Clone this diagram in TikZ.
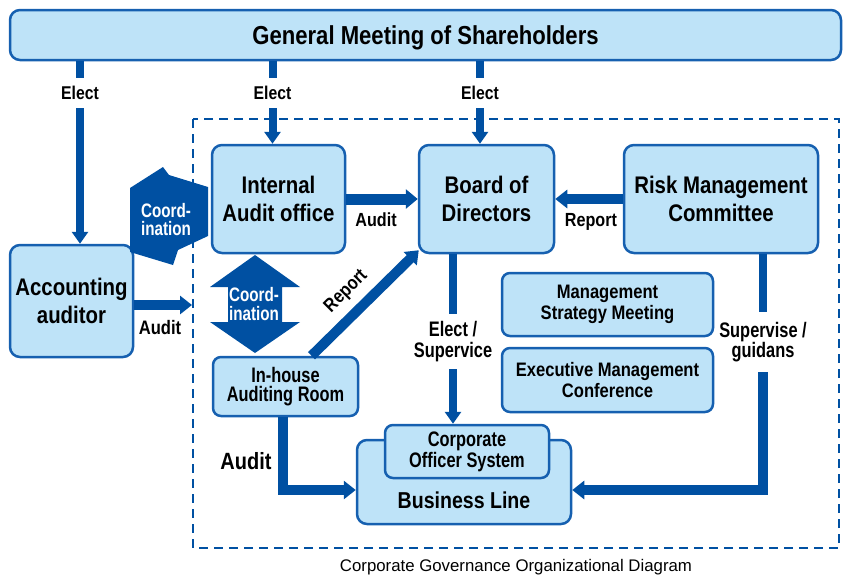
\documentclass[tikz,border=0pt]{standalone}
\usepackage{fontspec}
\setmainfont{Liberation Sans}
\newfontfamily\cb{Liberation Sans}[FakeStretch=0.85]
\newfontfamily\cbn{Liberation Sans}[FakeStretch=0.78]
\usetikzlibrary{arrows.meta,calc}
\definecolor{dblue}{RGB}{0,80,162}
\definecolor{bblue}{RGB}{22,96,176}
\definecolor{lblue}{RGB}{190,227,248}
\tikzset{
  box/.style={draw=bblue, line width=2.5pt, fill=lblue, rounded corners=10pt, inner sep=0pt, align=center,
    font=\cb\bfseries\fontsize{24}{27.5}\selectfont},
  mbox/.style={box, rounded corners=8pt, font=\cb\bfseries\fontsize{19.5}{21.5}\selectfont},
  lbl/.style={inner sep=0pt, align=center, font=\cb\bfseries\fontsize{19}{20.5}\selectfont},
  nlbl/.style={lbl, font=\cbn\bfseries\fontsize{21}{20.5}\selectfont},
  one/.style={text depth=0pt},
  ctext/.style={lbl, text=white, font=\cbn\bfseries\fontsize{19.5}{18.5}\selectfont},
  conn/.style={draw=dblue, line width=8pt},
  arr/.style={conn, -{Triangle[length=12pt, width=8pt 1]}},
  harr/.style={arr, line width=11pt},
}
\begin{document}
\begin{tikzpicture}[x=1pt,y=-1pt]
\useasboundingbox (0,0) rectangle (845,574);
% dashed frame
\draw[dblue, line width=2.5pt, dash pattern=on 9pt off 6pt] (193,119) rectangle (839,548);

% boxes
\node[box, one, minimum width=831pt, minimum height=50pt, font=\cb\bfseries\fontsize{26}{30}\selectfont] (gm) at (425.5,35) {General Meeting of Shareholders};
\node[box, minimum width=133pt, minimum height=108pt] (ia) at (278.5,199) {Internal\\Audit office};
\node[box, minimum width=135pt, minimum height=108pt] (bd) at (486.5,199) {Board of\\Directors};
\node[box, minimum width=194pt, minimum height=108pt] (rm) at (721,199) {Risk Management\\Committee};
\node[box, minimum width=123pt, minimum height=112pt] (acc) at (71.5,301) {Accounting\\auditor};
\node[mbox] (msm) at (607.5,304.5) [minimum width=211pt, minimum height=63pt] {Management\\Strategy Meeting};
\node[mbox] (emc) at (607.5,380) [minimum width=211pt, minimum height=64pt] {Executive Management\\Conference};
\node[mbox, font=\cbn\bfseries\fontsize{21}{18.5}\selectfont] (ih) at (285.5,386.5) [minimum width=145pt, minimum height=59pt] {In-house\\Auditing Room};
\node[box] (bl) at (464,482) [minimum width=214pt, minimum height=84pt] {};
\node[lbl, one, font=\cb\bfseries\fontsize{23}{26}\selectfont] (bltext) at (464,500.5) {Business Line};
\node[mbox, font=\cbn\bfseries\fontsize{21}{21.3}\selectfont] (cos) at (467,451.5) [minimum width=164pt, minimum height=53pt] {Corporate\\Officer System};

% coordination shapes
\fill[dblue] (130,188) -- (163,167) -- (169,175) -- (208,187) -- (208,236) -- (178,250) -- (173,265) -- (130,252) -- cycle;
\node[ctext] (c1) at (166,219.5) {Coord-\\ination};
\fill[dblue] (255,255) -- (300,287) -- (282,287) -- (282,322) -- (300,322) -- (255,353) -- (210,322) -- (228,322) -- (228,287) -- (210,287) -- cycle;
\node[ctext] (c2) at (254,304) {Coord-\\ination};

% Elect arrows
\node[lbl, one, font=\cb\bfseries\fontsize{18.5}{20}\selectfont, minimum height=30pt] (el1) at (80,93) {Elect};
\node[lbl, one, font=\cb\bfseries\fontsize{18.5}{20}\selectfont, minimum height=30pt] (el2) at (272.5,93) {Elect};
\node[lbl, one, font=\cb\bfseries\fontsize{18.5}{20}\selectfont, minimum height=30pt] (el3) at (480,93) {Elect};
\draw[conn] (gm.south -| el1) -- (el1.north);
\draw[arr] (el1.south) -- (acc.north -| el1);
\draw[conn] (gm.south -| el2) -- (el2.north);
\draw[arr] (el2.south) -- (ia.north -| el2);
\draw[conn] (gm.south -| el3) -- (el3.north);
\draw[arr] (el3.south) -- (bd.north -| el3);

% horizontal arrows
\draw[harr] (ia.east) -- (bd.west);
\node[lbl, one] (la1) at (376,220) {Audit};
\draw[harr, line width=10pt] (rm.west) -- (bd.east);
\node[lbl, one] (lr1) at (591,220) {Report};
\coordinate (accend) at (192,305);
\draw[harr, line width=10pt] ($(acc.east)+(0,4)$) -- (accend);
\node[lbl, one, font=\cb\bfseries\fontsize{19.5}{21}\selectfont] (la2) at (160,327) {Audit};

% diagonal report
\draw[arr, line width=10pt] ([xshift=26pt]ih.north) -- ([shift={(1,-4)}]bd.south west);
\node[lbl, one, rotate=45] (lr2) at (345,290) {Report};

% board -> corporate officer
\node[nlbl, minimum height=55pt] (es) at (453,341.5) {Elect /\\Supervice};
\draw[conn] (bd.south -| es) -- (es.north);
\draw[arr] (es.south) -- (cos.north -| es);

% risk -> business line
\node[nlbl, minimum height=60pt] (sg) at (763,342) {Supervise /\\guidans};
\draw[conn] (rm.south -| sg) -- (sg.north);
\draw[arr, line width=10pt] (sg.south) |- ($(bl.east)+(0,8)$);

% in-house -> business line
\draw[arr, line width=10pt] ([xshift=-2.5pt]ih.south) |- ($(bl.west)+(0,8)$);
\node[lbl, one, font=\cb\bfseries\fontsize{23.5}{26}\selectfont] (la3) at (246,460.5) {Audit};

% caption
\node[inner sep=0pt, one, font=\fontsize{16.8}{18}\selectfont] (cap) at (516,565.5) {Corporate Governance Organizational Diagram};
\end{tikzpicture}
\end{document}
